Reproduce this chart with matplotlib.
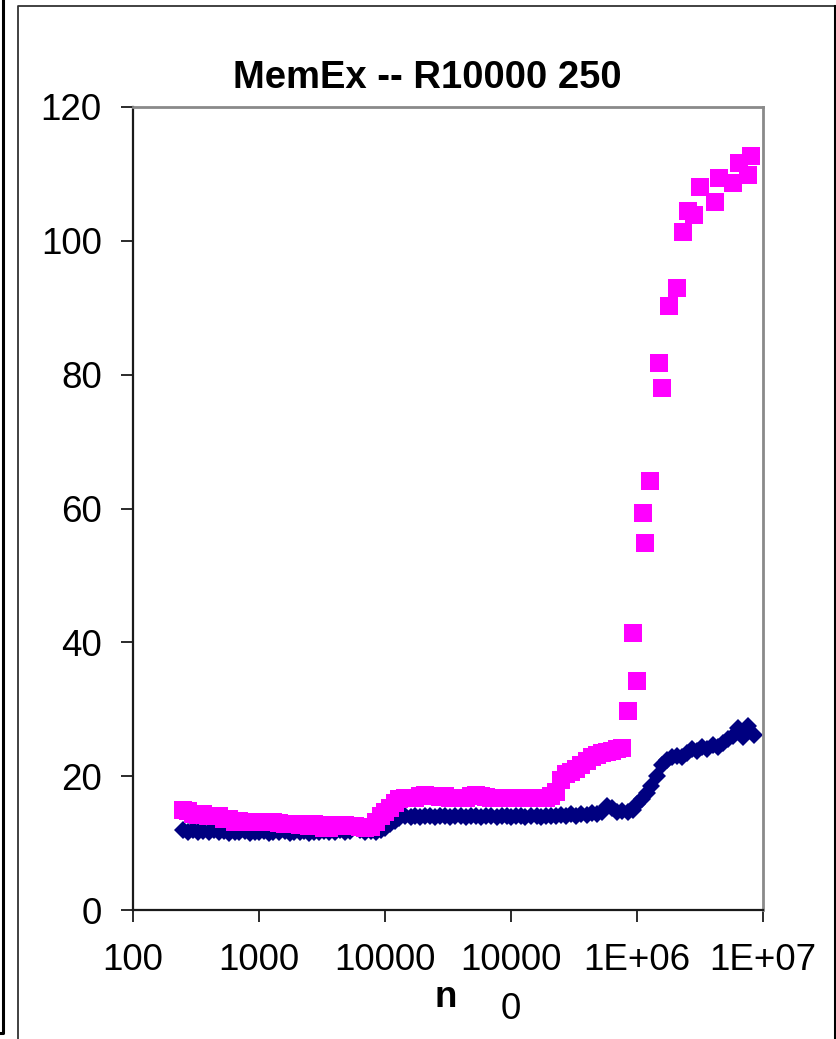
import matplotlib
matplotlib.use("Agg")
import matplotlib.pyplot as plt
from matplotlib.lines import Line2D
from matplotlib.ticker import NullLocator

plt.rcParams["font.family"] = ["Liberation Sans", "DejaVu Sans"]

# ── data ─────────────────────────────────────────────────────────────────────

n0 = [250, 275, 300, 330, 360, 400, 440, 480, 530, 580, 640, 700, 770, 850, 930,
      1000, 1100, 1200, 1300, 1450, 1600, 1750, 1900, 2100, 2300, 2500, 2750,
      3000, 3300, 3600, 4000, 4400, 4800, 5300, 5800, 6400, 7000, 7700, 8500, 9300,
      10000, 11000, 12000, 13000, 14500, 16000, 17500, 19000, 21000, 23000, 25000,
      27500, 30000, 33000, 36000, 40000, 44000, 48000, 53000, 58000, 64000, 70000,
      77000, 85000, 93000,
      100000, 110000, 120000, 130000, 145000, 160000, 175000, 190000, 210000,
      230000, 250000, 275000, 300000, 330000, 360000, 400000, 440000, 480000,
      530000, 580000, 640000, 700000, 770000, 850000, 930000,
      1000000, 1100000, 1200000, 1300000, 1450000, 1600000, 1750000, 1900000,
      2100000, 2300000, 2500000, 2750000, 3000000, 3300000, 3600000, 4000000,
      4400000, 4800000, 5300000, 5800000, 6400000, 7000000, 7700000, 8500000]

navy = [12.0, 11.7, 11.9, 11.6, 11.8, 11.7, 11.9, 11.6, 11.8, 11.5, 11.7, 11.6, 11.8, 11.5, 11.7,
        11.6, 11.8, 11.5, 11.7, 11.6, 11.8, 11.5, 11.7, 11.6, 11.8, 11.5, 11.7,
        11.6, 11.8, 11.6, 11.7, 11.9, 11.7, 11.8, 12.6, 11.9, 11.7, 11.8, 11.7, 11.9,
        12.3, 12.9, 13.3, 13.8, 14.0, 13.9, 14.1, 13.9, 14.0, 14.1, 13.9,
        14.0, 14.1, 13.9, 14.0, 14.1, 13.9, 14.0, 14.1, 13.9, 14.0, 14.1,
        13.9, 14.0, 14.1,
        13.9, 14.0, 14.1, 13.9, 14.0, 14.1, 13.9, 14.0, 14.1,
        14.0, 14.2, 14.0, 14.3, 14.1, 14.4, 14.2, 14.5, 14.3,
        14.6, 15.5, 15.2, 14.6, 14.8, 14.7, 15.0,
        15.8, 16.6, 17.5, 18.5, 20.0, 21.6, 22.4, 22.8,
        23.0, 22.8, 23.4, 24.0, 23.7, 24.3, 24.1, 24.6,
        24.4, 25.0, 25.6, 26.0, 27.2, 25.8, 27.5, 26.2]

# magenta follows n0 up to 770000, then gets sparse
pink_dense = [14.9, 14.8, 14.3, 14.2, 14.4, 14.1, 14.0, 14.1, 13.6, 13.6, 13.2, 13.3, 13.2, 13.1, 13.2,
              13.2, 13.1, 13.2, 13.2, 13.0, 12.8, 12.9, 12.8, 12.7, 12.8, 12.6, 12.8,
              12.7, 12.2, 12.3, 12.7, 12.6, 12.7, 12.5, 12.6, 12.4, 12.2, 12.4, 13.1, 14.0,
              14.6, 15.3, 16.0, 16.6, 16.7, 16.8, 16.7, 17.1, 17.2, 17.0, 17.1,
              16.9, 17.1, 16.8, 16.7, 16.8, 16.7, 17.0, 17.2, 17.1, 16.9, 16.7,
              16.8, 16.7, 16.8,
              16.7, 16.8, 16.7, 16.8, 16.7, 16.8, 16.7, 16.8, 17.0,
              17.7, 19.4, 20.3, 20.6, 21.0, 21.6, 22.2, 22.8, 23.1,
              23.4, 23.6, 23.8, 24.0, 24.2]

n_tail = [850000, 930000, 1000000, 1120000, 1160000, 1280000, 1500000, 1580000,
          1800000, 2080000, 2320000, 2550000, 2850000, 3200000, 4200000, 4500000,
          5800000, 6500000, 7600000, 8100000]
pink_tail = [29.7, 41.4, 34.2, 59.3, 54.8, 64.1, 81.8, 78.0,
             90.3, 92.9, 101.3, 104.5, 103.8, 108.0, 105.8, 109.4,
             108.6, 111.7, 109.9, 112.7]

x_ticks = [100, 1000, 10000, 100000, 1000000, 10000000]
x_labels = ["100", "1000", "10000", "10000\n0", "1E+06", "1E+07"]
y_ticks = [0, 20, 40, 60, 80, 100, 120]

# ── colours ──────────────────────────────────────────────────────────────────

NAVY = "#000080"
PINK = "#FF00FF"
AXIS = "#1a1a1a"
FRAME = "#8a8a8a"

W, H = 836, 1039
FS = 26.5

fig = plt.figure(figsize=(W / 100, H / 100), dpi=100)
fig.patch.set_facecolor("white")

# plot area in pixels: x 133..762.7, y 107..910
ax = fig.add_axes([133 / W, 1 - 910 / H, 629.7 / W, 803 / H])

pink_n = n0[:len(pink_dense)] + n_tail
pink_y = pink_dense + pink_tail

ax.plot(n0, navy, ls="none", marker="D", ms=9.6, mew=0, color=NAVY, clip_on=False)
ax.plot(pink_n, pink_y, ls="none", marker="s", ms=13, mew=0, color=PINK, clip_on=False)

ax.set_xscale("log")
ax.set_xlim(100, 1e7)
ax.set_ylim(0, 120)
ax.set_xticks(x_ticks)
ax.set_xticklabels(x_labels)
ax.xaxis.set_minor_locator(NullLocator())
ax.set_yticks(y_ticks)

ax.tick_params(axis="both", direction="out", length=8.5, width=1.3,
               color=AXIS, labelsize=FS, labelcolor="black")
ax.tick_params(axis="x", pad=15)
ax.tick_params(axis="y", pad=14)
for lab in ax.get_xticklabels():
    lab.set_linespacing(1.55)

for side in ("left", "bottom"):
    ax.spines[side].set_color(AXIS)
    ax.spines[side].set_linewidth(1.6)
for side in ("top", "right"):
    ax.spines[side].set_color(FRAME)
    ax.spines[side].set_linewidth(2.0)

ax.set_xlabel("n", fontsize=FS, fontweight="bold", va="baseline")
ax.xaxis.set_label_coords((446 - 133) / 629.7, (910 - 1007) / 803)

ax.text((427.5 - 133) / 629.7, (910 - 88) / 803, "MemEx -- R10000 250",
        transform=ax.transAxes, ha="center", va="baseline",
        fontsize=27.5, fontweight="bold")

# ── outer frames (chart border and neighbouring chart edge) ─────────────────


def px_line(xs, ys, **kw):
    fig.add_artist(Line2D([x / W for x in xs], [1 - y / H for y in ys],
                          transform=fig.transFigure, **kw))


px_line([18.3, 18.3, 834.5, 834.5], [H + 5, 5.5, 5.5, H + 5], color="#333333", lw=1.3)
px_line([834.5, 834.5], [5.5, H + 5], color="black", lw=2.2)
px_line([3.3, 3.3, 0], [0, 1033, 1033], color="black", lw=2.2)

fig.savefig("out.png", dpi=100, facecolor="white")
